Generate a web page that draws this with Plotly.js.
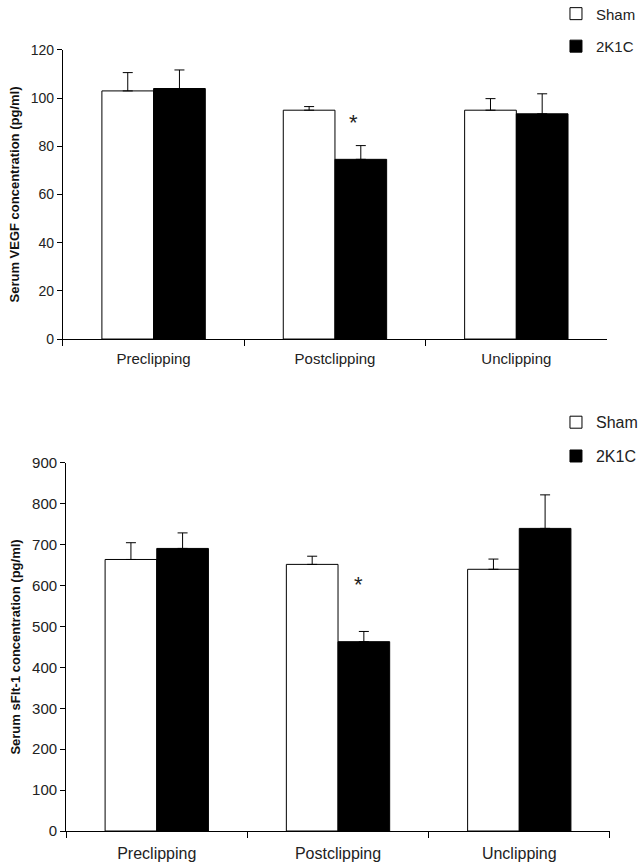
<!DOCTYPE html>
<html>
<head>
<meta charset="utf-8">
<script src="https://cdn.plot.ly/plotly-3.0.1.min.js"></script>
<style>html,body{margin:0;padding:0;background:#fff;}#chart{width:642px;height:866px;}</style>
</head>
<body>
<div id="chart"></div>
<script>
// ---- data ----
const categories = ["Preclipping", "Postclipping", "Unclipping"];
const seriesNames = ["Sham", "2K1C"];

const vegfSham = [103, 95, 95];
const vegfShamErr = [7.6, 1.5, 4.8];
const vegf2K1C = [104, 74.6, 93.5];
const vegf2K1CErr = [7.7, 5.7, 8.3];

const sfltSham = [664, 652, 640];
const sfltShamErr = [41, 20, 25];
const sflt2K1C = [691, 463, 740];
const sflt2K1CErr = [38, 25, 82];

const vegfTicks = [0, 20, 40, 60, 80, 100, 120];
const sfltTicks = [0, 100, 200, 300, 400, 500, 600, 700, 800, 900];

const vegfStar = 90;   // asterisk level, top panel
const sfltStar = 602;  // asterisk level, bottom panel

const FONT = "Liberation Sans, Arial, sans-serif";

function errUp(arr) {
  return {type: "data", symmetric: false, array: arr, arrayminus: arr.map(() => 0),
          color: "#000", thickness: 1, width: 5};
}
function barTrace(name, x, y, err, fill, xa, ya, leg) {
  return {
    type: "bar", name: name, x: x, y: y,
    xaxis: xa, yaxis: ya, legend: leg, showlegend: true,
    legendgroup: name + leg,
    marker: {color: fill, line: {color: "#000", width: 1}},
    error_y: errUp(err),
    hoverinfo: "skip"
  };
}

const data = [
  barTrace(seriesNames[0], categories, vegfSham, vegfShamErr, "#fff", "x", "y", "legend"),
  barTrace(seriesNames[1], categories, vegf2K1C, vegf2K1CErr, "#000", "x", "y", "legend"),
  barTrace(seriesNames[0], categories, sfltSham, sfltShamErr, "#fff", "x2", "y2", "legend2"),
  barTrace(seriesNames[1], categories, sflt2K1C, sflt2K1CErr, "#000", "x2", "y2", "legend2")
];

function yax(ticks, domain, title, anchor, fs) {
  return {
    domain: domain, anchor: anchor, automargin: false,
    range: [0, ticks[ticks.length - 1]],
    tickvals: ticks, ticktext: ticks.map(String),
    showline: true, linecolor: "#000", linewidth: 1,
    ticks: "outside", ticklen: 5, tickcolor: "#000",
    showgrid: false, zeroline: false,
    tickfont: {family: FONT, size: fs, color: "#222"},
    title: {text: title, font: {family: FONT, size: 13, color: "#111", weight: "bold"}, standoff: 8},
    fixedrange: true
  };
}
function xax(domain, anchor, fs, so) {
  return {
    domain: domain, anchor: anchor, automargin: false,
    showline: true, linecolor: "#000", linewidth: 1,
    ticks: "outside", ticklen: 6, tickcolor: "#000", tickson: "boundaries",
    ticklabelstandoff: so,
    showgrid: false, zeroline: false,
    tickfont: {family: FONT, size: fs, color: "#222"},
    fixedrange: true
  };
}

const layout = {
  width: 642, height: 866,
  margin: {l: 0, r: 0, t: 0, b: 0, autoexpand: false},
  paper_bgcolor: "#fff", plot_bgcolor: "#fff",
  barmode: "group", bargap: 0.43, bargroupgap: 0,
  font: {family: FONT},
  xaxis: xax([0.098, 0.9455], "y", 15, 6),
  yaxis: yax(vegfTicks, [0.6085, 0.9423], "Serum VEGF concentration (pg/ml)", "x", 14),
  xaxis2: xax([0.103, 0.950], "y2", 16, 8),
  yaxis2: yax(sfltTicks, [0.0404, 0.4654], "Serum sFlt-1 concentration (pg/ml)", "x2", 15),
  legend: {x: 0.866, y: 1.003, xanchor: "left", yanchor: "top",
           font: {family: FONT, size: 15, color: "#222"},
           bgcolor: "rgba(0,0,0,0)", traceorder: "grouped", tracegroupgap: 10,
           itemwidth: 30},
  legend2: {x: 0.866, y: 0.532, xanchor: "left", yanchor: "top",
            font: {family: FONT, size: 16, color: "#222"},
            bgcolor: "rgba(0,0,0,0)", traceorder: "grouped", tracegroupgap: 10,
            itemwidth: 30},
  annotations: [
    {x: categories[1], y: vegfStar, xref: "x", yref: "y", text: "*", showarrow: false,
     xshift: 19, font: {family: FONT, size: 22, color: "#222"}},
    {x: categories[1], y: sfltStar, xref: "x2", yref: "y2", text: "*", showarrow: false,
     xshift: 20, font: {family: FONT, size: 22, color: "#222"}}
  ]
};

Plotly.newPlot("chart", data, layout, {displayModeBar: false, staticPlot: true});
</script>
</body>
</html>
